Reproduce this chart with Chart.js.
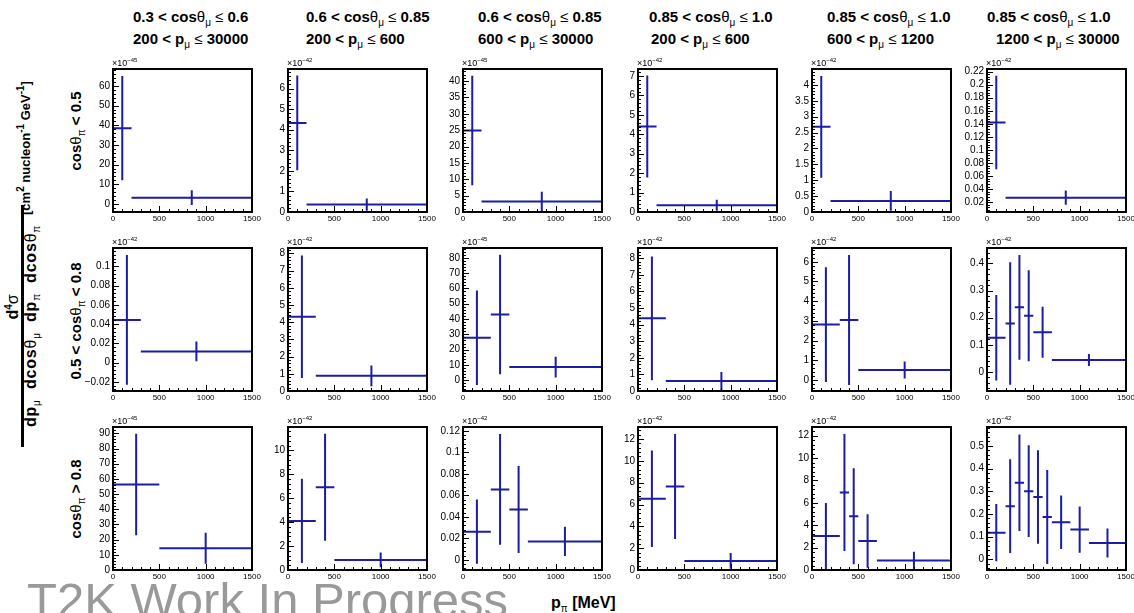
<!DOCTYPE html>
<html>
<head>
<meta charset="utf-8">
<script src="https://cdn.jsdelivr.net/npm/chart.js@4.4.1/dist/chart.umd.min.js"></script>
<style>
  body { margin: 0; width: 1134px; height: 613px; background: #fff; position: relative; overflow: hidden;
         font-family: "Liberation Sans", Arial, Helvetica, sans-serif; color: #000; }
  .t { position: absolute; white-space: nowrap; line-height: 1; }
  .b { font-weight: bold; }
  .g { font-weight: normal; }
  sub { font-size: 10px; font-weight: normal; vertical-align: -4px; line-height: 0; }
  sup { font-size: 10px; vertical-align: 6px; line-height: 0; }
  .rot { transform: translate(-50%, -50%) rotate(-90deg); }
  .expo { font-size: 9px; }
  .expo sup { font-size: 6px; vertical-align: 4px; }
  canvas { position: absolute; }
</style>
</head>
<body>
<script>
// p_pi in MeV, cross sections in units of 10^expo cm2 / nucleon / GeV

const xTicks = [0, 500, 1000, 1500];

// column headers
const cosMuLo = ['0.3', '0.6', '0.6', '0.85', '0.85', '0.85'];
const cosMuHi = ['0.6', '0.85', '0.85', '1.0', '1.0', '1.0'];
const pMuLo = ['200', '200', '600', '200', '600', '1200'];
const pMuHi = ['30000', '600', '30000', '600', '1200', '30000'];

// row headers
const rowCuts = [['', '<', '0.5'], ['0.5', '<', '0.8'], ['', '>', '0.8']];

const expo = [
  [-45, -42, -45, -42, -42, -42],
  [-42, -42, -45, -42, -42, -42],
  [-45, -42, -42, -42, -42, -42]
];

// row 1 : cos(theta_pi) < 0.5
const edges_r1c1 = [0, 200, 1500];
const xsec_r1c1 = [38.5, 3.2];
const err_r1c1 = [26.5, 3.7];
const yTicks_r1c1 = [0, 10, 20, 30, 40, 50, 60];
const yRange_r1c1 = [-4.1, 68.6];

const edges_r1c2 = [0, 200, 1500];
const xsec_r1c2 = [4.33, 0.36];
const err_r1c2 = [2.3, 0.3];
const yTicks_r1c2 = [0, 1, 2, 3, 4, 5, 6];
const yRange_r1c2 = [0, 6.95];

const edges_r1c3 = [0, 200, 1500];
const xsec_r1c3 = [24.9, 3.2];
const err_r1c3 = [16.7, 3.0];
const yTicks_r1c3 = [0, 5, 10, 15, 20, 25, 30, 35, 40];
const yRange_r1c3 = [0, 43.7];

const edges_r1c4 = [0, 200, 1500];
const xsec_r1c4 = [4.4, 0.35];
const err_r1c4 = [2.62, 0.28];
const yTicks_r1c4 = [0, 1, 2, 3, 4, 5, 6, 7];
const yRange_r1c4 = [0, 7.36];

const edges_r1c5 = [0, 200, 1500];
const xsec_r1c5 = [2.68, 0.35];
const err_r1c5 = [1.6, 0.31];
const yTicks_r1c5 = [0, 0.5, 1, 1.5, 2, 2.5, 3, 3.5, 4];
const yRange_r1c5 = [0, 4.5];

const edges_r1c6 = [0, 200, 1500];
const xsec_r1c6 = [0.142, 0.027];
const err_r1c6 = [0.0715, 0.011];
const yTicks_r1c6 = [0.02, 0.04, 0.06, 0.08, 0.1, 0.12, 0.14, 0.16, 0.18, 0.2, 0.22];
const yRange_r1c6 = [0.005, 0.224];

// row 2 : 0.5 < cos(theta_pi) < 0.8
const edges_r2c1 = [0, 300, 1500];
const xsec_r2c1 = [0.0443, 0.0115];
const err_r2c1 = [0.0675, 0.0103];
const yTicks_r2c1 = [-0.02, 0, 0.02, 0.04, 0.06, 0.08, 0.1];
const yRange_r2c1 = [-0.0296, 0.119];

const edges_r2c2 = [0, 300, 1500];
const xsec_r2c2 = [4.32, 0.88];
const err_r2c2 = [3.56, 0.6];
const yTicks_r2c2 = [0, 1, 2, 3, 4, 5, 6, 7, 8];
const yRange_r2c2 = [0, 8.31];

const edges_r2c3 = [0, 300, 500, 1500];
const xsec_r2c3 = [27.8, 43.0, 8.6];
const err_r2c3 = [30.9, 39.0, 6.8];
const yTicks_r2c3 = [0, 10, 20, 30, 40, 50, 60, 70, 80];
const yRange_r2c3 = [-7, 86.4];

const edges_r2c4 = [0, 300, 1500];
const xsec_r2c4 = [4.38, 0.6];
const err_r2c4 = [3.73, 0.55];
const yTicks_r2c4 = [0, 1, 2, 3, 4, 5, 6, 7, 8];
const yRange_r2c4 = [0, 8.62];

const edges_r2c5 = [0, 300, 500, 1500];
const xsec_r2c5 = [2.81, 3.05, 0.51];
const err_r2c5 = [2.91, 3.3, 0.43];
const yTicks_r2c5 = [0, 1, 2, 3, 4, 5, 6];
const yRange_r2c5 = [-0.56, 6.7];

const edges_r2c6 = [0, 200, 300, 400, 500, 700, 1500];
const xsec_r2c6 = [0.126, 0.178, 0.238, 0.207, 0.146, 0.0435];
const err_r2c6 = [0.158, 0.226, 0.193, 0.168, 0.094, 0.022];
const yTicks_r2c6 = [0, 0.1, 0.2, 0.3, 0.4];
const yRange_r2c6 = [-0.0706, 0.457];

// row 3 : cos(theta_pi) > 0.8
const edges_r3c1 = [0, 500, 1500];
const xsec_r3c1 = [56.3, 14.3];
const err_r3c1 = [33.4, 10.2];
const yTicks_r3c1 = [0, 10, 20, 30, 40, 50, 60, 70, 80, 90];
const yRange_r3c1 = [0, 94.2];

const edges_r3c2 = [0, 300, 500, 1500];
const xsec_r3c2 = [4.1, 6.91, 0.84];
const err_r3c2 = [3.52, 4.47, 0.62];
const yTicks_r3c2 = [0, 2, 4, 6, 8, 10];
const yRange_r3c2 = [0, 11.95];

const edges_r3c3 = [0, 300, 500, 700, 1500];
const xsec_r3c3 = [0.0262, 0.0655, 0.0468, 0.0171];
const err_r3c3 = [0.0299, 0.0515, 0.0405, 0.0136];
const yTicks_r3c3 = [0, 0.02, 0.04, 0.06, 0.08, 0.1, 0.12];
const yRange_r3c3 = [-0.0094, 0.1235];

const edges_r3c4 = [0, 300, 500, 1500];
const xsec_r3c4 = [6.52, 7.65, 0.83];
const err_r3c4 = [4.42, 4.82, 0.72];
const yTicks_r3c4 = [0, 2, 4, 6, 8, 10, 12];
const yRange_r3c4 = [0, 13.1];

const edges_r3c5 = [0, 300, 400, 500, 700, 1500];
const xsec_r3c5 = [3.04, 6.93, 4.8, 2.59, 0.86];
const err_r3c5 = [2.95, 5.23, 4.29, 2.4, 0.76];
const yTicks_r3c5 = [0, 2, 4, 6, 8, 10, 12];
const yRange_r3c5 = [0, 12.78];

const edges_r3c6 = [0, 200, 300, 400, 500, 600, 700, 900, 1100, 1500];
const xsec_r3c6 = [0.117, 0.234, 0.337, 0.300, 0.274, 0.186, 0.163, 0.131, 0.072];
const err_r3c6 = [0.126, 0.207, 0.213, 0.202, 0.206, 0.207, 0.118, 0.102, 0.064];
const yTicks_r3c6 = [0, 0.1, 0.2, 0.3, 0.4, 0.5];
const yRange_r3c6 = [-0.0475, 0.583];

const panels = [
  [
    {edges: edges_r1c1, xsec: xsec_r1c1, err: err_r1c1, yTicks: yTicks_r1c1, yRange: yRange_r1c1},
    {edges: edges_r1c2, xsec: xsec_r1c2, err: err_r1c2, yTicks: yTicks_r1c2, yRange: yRange_r1c2},
    {edges: edges_r1c3, xsec: xsec_r1c3, err: err_r1c3, yTicks: yTicks_r1c3, yRange: yRange_r1c3},
    {edges: edges_r1c4, xsec: xsec_r1c4, err: err_r1c4, yTicks: yTicks_r1c4, yRange: yRange_r1c4},
    {edges: edges_r1c5, xsec: xsec_r1c5, err: err_r1c5, yTicks: yTicks_r1c5, yRange: yRange_r1c5},
    {edges: edges_r1c6, xsec: xsec_r1c6, err: err_r1c6, yTicks: yTicks_r1c6, yRange: yRange_r1c6}
  ],
  [
    {edges: edges_r2c1, xsec: xsec_r2c1, err: err_r2c1, yTicks: yTicks_r2c1, yRange: yRange_r2c1},
    {edges: edges_r2c2, xsec: xsec_r2c2, err: err_r2c2, yTicks: yTicks_r2c2, yRange: yRange_r2c2},
    {edges: edges_r2c3, xsec: xsec_r2c3, err: err_r2c3, yTicks: yTicks_r2c3, yRange: yRange_r2c3},
    {edges: edges_r2c4, xsec: xsec_r2c4, err: err_r2c4, yTicks: yTicks_r2c4, yRange: yRange_r2c4},
    {edges: edges_r2c5, xsec: xsec_r2c5, err: err_r2c5, yTicks: yTicks_r2c5, yRange: yRange_r2c5},
    {edges: edges_r2c6, xsec: xsec_r2c6, err: err_r2c6, yTicks: yTicks_r2c6, yRange: yRange_r2c6}
  ],
  [
    {edges: edges_r3c1, xsec: xsec_r3c1, err: err_r3c1, yTicks: yTicks_r3c1, yRange: yRange_r3c1},
    {edges: edges_r3c2, xsec: xsec_r3c2, err: err_r3c2, yTicks: yTicks_r3c2, yRange: yRange_r3c2},
    {edges: edges_r3c3, xsec: xsec_r3c3, err: err_r3c3, yTicks: yTicks_r3c3, yRange: yRange_r3c3},
    {edges: edges_r3c4, xsec: xsec_r3c4, err: err_r3c4, yTicks: yTicks_r3c4, yRange: yRange_r3c4},
    {edges: edges_r3c5, xsec: xsec_r3c5, err: err_r3c5, yTicks: yTicks_r3c5, yRange: yRange_r3c5},
    {edges: edges_r3c6, xsec: xsec_r3c6, err: err_r3c6, yTicks: yTicks_r3c6, yRange: yRange_r3c6}
  ]
];

// page layout
const colLeft = [113, 288, 463, 638, 812, 987];
const rowTop = [69, 248, 427];
const PW = 139, PH = 143;
const PAD_L = 42, PAD_T = 14, PAD_R = 14, PAD_B = 14;
const BLUE = '#1c1ca6';
const FONT = '"Liberation Sans", Arial, Helvetica, sans-serif';

Chart.defaults.font.family = FONT;

function addText(html, cls, left, top, style) {
  const d = document.createElement('div');
  d.className = 't ' + cls;
  d.innerHTML = html;
  d.style.left = left + 'px';
  d.style.top = top + 'px';
  if (style) d.style.cssText += style;
  document.body.appendChild(d);
  return d;
}

function fmt(v) {
  const s = String(Math.round(v * 1e6) / 1e6);
  return s.replace('-', '\u2212');
}

// horizontal bin bars + vertical error bars, null breaks the line
function errorBarPoints(edges, vals, errs) {
  const pts = [];
  for (let i = 0; i < vals.length; i++) {
    const c = (edges[i] + edges[i + 1]) / 2;
    pts.push({x: edges[i], y: vals[i]}, {x: edges[i + 1], y: vals[i]}, {x: edges[i + 1], y: null});
    pts.push({x: c, y: vals[i] - errs[i]}, {x: c, y: vals[i] + errs[i]}, {x: c, y: null});
  }
  return pts;
}

function centrePoints(edges, vals) {
  return vals.map((v, i) => ({x: (edges[i] + edges[i + 1]) / 2, y: v}));
}

// ROOT style frame with inward ticks
const rootFrame = {
  id: 'rootFrame',
  afterDatasetsDraw(chart) {
    const {ctx, chartArea: a} = chart;
    const xs = chart.scales.x, ys = chart.scales.y;
    ctx.save();
    ctx.strokeStyle = '#000';
    ctx.lineWidth = 1;
    ctx.beginPath();

    const xt = xs.ticks.map(t => t.value);
    const xMajor = xt[1] - xt[0];
    const xMinor = xMajor / 5;
    for (let k = 0; xs.min + k * xMinor <= xs.max + 1e-9; k++) {
      const v = xs.min + k * xMinor;
      const px = Math.round(xs.getPixelForValue(v)) + 0.5;
      const len = (k % 5 === 0) ? 6 : 3;
      ctx.moveTo(px, a.bottom);
      ctx.lineTo(px, a.bottom - len);
    }

    const yt = ys.ticks.map(t => t.value);
    const yMajor = yt[1] - yt[0];
    const yMinor = yMajor / 5;
    const kStart = Math.ceil((ys.min - yt[0]) / yMinor - 1e-6);
    for (let k = kStart; yt[0] + k * yMinor <= ys.max + 1e-9; k++) {
      const v = yt[0] + k * yMinor;
      const py = Math.round(ys.getPixelForValue(v)) + 0.5;
      const len = (((k % 5) + 5) % 5 === 0) ? 6 : 3;
      ctx.moveTo(a.left, py);
      ctx.lineTo(a.left + len, py);
    }
    ctx.stroke();

    ctx.lineWidth = 2;
    ctx.strokeRect(a.left, a.top, a.right - a.left, a.bottom - a.top);
    ctx.restore();
  }
};

function makePanel(r, c) {
  const p = panels[r][c];
  const cv = document.createElement('canvas');
  cv.width = PAD_L + PW + PAD_R;
  cv.height = PAD_T + PH + PAD_B;
  cv.style.left = (colLeft[c] - PAD_L) + 'px';
  cv.style.top = (rowTop[r] - PAD_T) + 'px';
  document.body.appendChild(cv);

  new Chart(cv.getContext('2d'), {
    type: 'line',
    data: {
      datasets: [{
        data: errorBarPoints(p.edges, p.xsec, p.err),
        borderColor: BLUE,
        borderWidth: 2,
        pointRadius: 0,
        spanGaps: false,
        tension: 0
      }, {
        data: centrePoints(p.edges, p.xsec),
        showLine: false,
        pointStyle: 'rect',
        pointRadius: 1.2,
        backgroundColor: '#000',
        borderWidth: 0
      }]
    },
    options: {
      responsive: false,
      animation: false,
      devicePixelRatio: 1,
      events: [],
      layout: { padding: {left: 0, top: PAD_T, right: PAD_R, bottom: 0} },
      plugins: { legend: {display: false}, tooltip: {enabled: false} },
      scales: {
        x: {
          type: 'linear', min: 0, max: 1500,
          grid: {display: false, drawTicks: false},
          border: {display: false},
          ticks: {font: {size: 8}, color: '#000', padding: 2, maxRotation: 0, autoSkip: false, callback: v => fmt(v)},
          afterBuildTicks: s => { s.ticks = xTicks.map(v => ({value: v})); },
          afterFit: s => { s.height = PAD_B; }
        },
        y: {
          type: 'linear', min: p.yRange[0], max: p.yRange[1],
          grid: {display: false, drawTicks: false},
          border: {display: false},
          ticks: {font: {size: 10}, color: '#000', padding: 3, autoSkip: false, callback: v => fmt(v)},
          afterBuildTicks: s => { s.ticks = p.yTicks.map(v => ({value: v})); },
          afterFit: s => { s.width = PAD_L; }
        }
      }
    },
    plugins: [rootFrame]
  });

  addText('\u00d710<sup>\u2212' + String(-expo[r][c]) + '</sup>', 'expo', colLeft[c] - 1, rowTop[r] - 10);
}

// column titles
const head1Left = [133, 306, 478, 649, 827, 987];
const head2Left = [133, 306, 478, 651, 827, 996];
for (let c = 0; c < 6; c++) {
  addText(cosMuLo[c] + ' &lt; cos<span class="g">\u03b8</span><sub>\u03bc</sub> <span class="g">\u2264</span> ' + cosMuHi[c],
    'b', head1Left[c], 9, 'font-size:15px');
  addText(pMuLo[c] + ' &lt; p<sub>\u03bc</sub> <span class="g">\u2264</span> ' + pMuHi[c],
    'b', head2Left[c], 30.5, 'font-size:15px');
}

// row titles
const rowMid = [131, 321, 499];
for (let r = 0; r < 3; r++) {
  const cut = rowCuts[r];
  const lead = cut[0] ? cut[0] + ' &lt; ' : '';
  const sign = cut[1] === '<' ? '&lt;' : '&gt;';
  addText(lead + 'cos<span class="g">\u03b8</span><sub>\u03c0</sub> ' + sign + ' ' + cut[2],
    'b rot', 75, rowMid[r], 'font-size:15px');
}

// y axis title (fraction drawn as separate rotated pieces)
addText('d<sup>4</sup><span class="g">\u03c3</span>', 'b rot', 12.5, 307, 'font-size:16px');
addText('', '', 21, 205, 'width:3px;height:242px;background:#000');
addText('dp<sub>\u03bc</sub> dcos<span class="g">\u03b8</span><sub>\u03bc</sub> dp<sub>\u03c0</sub> dcos<span class="g">\u03b8</span><sub>\u03c0</sub>',
  'b rot', 31, 326, 'font-size:16px;letter-spacing:0.8px;word-spacing:5px');
addText('[cm<sup>2</sup> nucleon<sup>-1</sup> GeV<sup>-1</sup>]', 'b rot', 25, 148, 'font-size:13px');

// x axis title and watermark
addText('T2K Work In Progress', '', 27, 576, 'font-size:49px;color:#999');
addText('p<sub>\u03c0</sub> [MeV]', 'b', 551, 594.5, 'font-size:16px');

for (let r = 0; r < 3; r++) {
  for (let c = 0; c < 6; c++) makePanel(r, c);
}
</script>
</body>
</html>
